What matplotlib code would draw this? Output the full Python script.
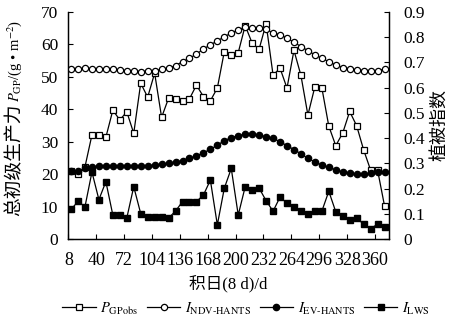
import numpy as np
import matplotlib
matplotlib.use("Agg")
import matplotlib.pyplot as plt

plt.rcParams.update({
    "font.family": ["Liberation Serif", "Noto Sans CJK SC"],
    "mathtext.fontset": "stix",
    "axes.linewidth": 0.9,
    "xtick.direction": "in",
    "ytick.direction": "in",
})

# ── Data (8-day composites) ─────────────────────────────────
doy = list(range(11, 376, 8))   # 46 composites

gpp_obs = [21.0, 20.0, 22.3, 32.1, 32.0, 31.4, 39.7, 36.7, 39.2, 32.6,
           48.0, 43.7, 51.1, 37.5, 43.4, 43.1, 42.6, 43.2, 47.4, 43.9,
           42.6, 46.5, 57.7, 56.7, 57.4, 65.7, 60.3, 58.5, 66.3, 50.5,
           52.6, 46.5, 58.1, 50.4, 38.2, 46.9, 46.6, 34.8, 28.8, 32.7,
           39.3, 34.9, 27.5, 21.3, 21.3, 10.3]

ndvi_hants = [0.672, 0.674, 0.676, 0.675, 0.674, 0.672, 0.672, 0.669, 0.667, 0.666,
              0.663, 0.665, 0.666, 0.672, 0.676, 0.687, 0.702, 0.716, 0.732, 0.752,
              0.769, 0.784, 0.801, 0.815, 0.828, 0.838, 0.837, 0.834, 0.831, 0.815,
              0.809, 0.795, 0.779, 0.762, 0.746, 0.729, 0.716, 0.702, 0.689, 0.679,
              0.674, 0.670, 0.667, 0.667, 0.667, 0.672]

evi_hants = [0.271, 0.269, 0.280, 0.287, 0.289, 0.289, 0.289, 0.289, 0.289, 0.289,
             0.289, 0.291, 0.294, 0.297, 0.301, 0.305, 0.311, 0.320, 0.330, 0.342,
             0.356, 0.372, 0.390, 0.402, 0.410, 0.415, 0.415, 0.411, 0.406, 0.399,
             0.386, 0.370, 0.355, 0.338, 0.320, 0.306, 0.293, 0.284, 0.275, 0.266,
             0.261, 0.258, 0.257, 0.262, 0.265, 0.265]

lws = [0.118, 0.150, 0.129, 0.266, 0.157, 0.228, 0.096, 0.096, 0.084, 0.208,
       0.102, 0.090, 0.090, 0.090, 0.084, 0.112, 0.149, 0.149, 0.149, 0.175,
       0.234, 0.057, 0.202, 0.280, 0.096, 0.208, 0.195, 0.202, 0.153, 0.111,
       0.167, 0.143, 0.129, 0.111, 0.100, 0.111, 0.111, 0.190, 0.109, 0.094,
       0.076, 0.084, 0.060, 0.042, 0.060, 0.049]

xticks = [8, 40, 72, 104, 136, 168, 200, 232, 264, 296, 328, 360]

leg_labels = ["$P_{\\mathrm{GPobs}}$", "$I_{\\mathrm{NDV\\text{-}HANTS}}$",
              "$I_{\\mathrm{EV\\text{-}HANTS}}$", "$I_{\\mathrm{LWS}}$"]

# ── Figure ──────────────────────────────────────────────────
W, H = 461, 323
fig = plt.figure(figsize=(W / 100, H / 100), dpi=100)
ax = fig.add_axes([0.1475, 0.259, 0.697, 0.705])
ax2 = ax.twinx()

ms = 4.5
l1, = ax.plot(doy, gpp_obs, "-s", color="black", mfc="white", mec="black",
              ms=ms, lw=0.9, mew=0.9)
l2, = ax2.plot(doy, ndvi_hants, "-o", color="black", mfc="white", mec="black",
               ms=ms, lw=0.9, mew=0.9)
l3, = ax2.plot(doy, evi_hants, "-o", color="black", mfc="black",
               ms=ms, lw=0.9)
l4, = ax2.plot(doy, lws, "-s", color="black", mfc="black",
               ms=ms, lw=0.9)

ax.set_xlim(7.5, 376.5)
ax.set_ylim(0, 70)
ax2.set_ylim(0, 0.9)
ax.set_xticks(xticks)
ax.set_yticks(range(0, 71, 10))
ax2.set_yticks(np.arange(0, 0.91, 0.1))
ax2.set_yticklabels(["0"] + [f"{v:.1f}" for v in np.arange(0.1, 0.91, 0.1)])

for a in (ax, ax2):
    a.spines["top"].set_visible(False)
    a.tick_params(length=3.5, width=0.8, labelsize=12.5)
ax.tick_params(axis="y", pad=7)
ax2.tick_params(axis="y", pad=10)
ax.tick_params(axis="x", labelsize=13, pad=9)

ax2.set_ylabel("植被指数", fontsize=13, labelpad=5)
ax.set_xlabel("积日(8 d)/d", fontsize=12, labelpad=4)

# left label: Chinese part + math part (mathtext has no CJK glyphs)
bx = 19 / W
t1 = fig.text(bx, (H - 216) / H, "总初级生产力", fontsize=13.5, rotation=90,
              rotation_mode="anchor", ha="left", va="baseline")
fig.canvas.draw()
bb = t1.get_window_extent()
fig.text(bx, (bb.y1 + 1) / H, "$P_{\\mathrm{GP}}$/(g • m$^{-2}$)", fontsize=10.5,
         rotation=90, rotation_mode="anchor", ha="left", va="baseline")

fig.legend([l1, l2, l3, l4], leg_labels,
           loc="center", bbox_to_anchor=(246 / W, 0.045), ncol=4, frameon=False,
           fontsize=10.5, handlelength=2.3, columnspacing=0.6, handletextpad=0.3)

plt.savefig("out.png", dpi=100, facecolor="white")
plt.close()
